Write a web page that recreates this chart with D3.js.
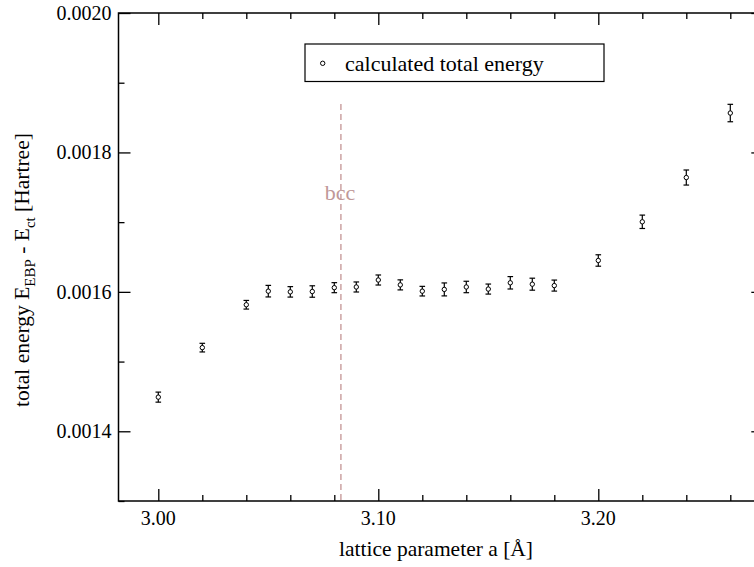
<!DOCTYPE html>
<html><head><meta charset="utf-8">
<script src="https://cdn.jsdelivr.net/npm/d3@7"></script>
</head><body style="margin:0">
<script>
const latticeA = [3.00,3.02,3.04,3.05,3.06,3.07,3.08,3.09,3.10,3.11,3.12,3.13,3.14,3.15,3.16,3.17,3.18,3.20,3.22,3.24,3.26];
const energy = [0.001449,0.001520,0.0015815,0.001601,0.0016,0.0016005,0.001606,0.001607,0.001617,0.00161,0.001601,0.0016035,0.001607,0.001604,0.001613,0.001611,0.001609,0.001645,0.0017005,0.001764,0.0018565];
const errBar = [0.0000072,0.0000062,0.0000062,0.0000083,0.0000075,0.0000082,0.0000072,0.0000072,0.0000072,0.0000072,0.0000069,0.0000093,0.0000082,0.0000072,0.0000089,0.0000086,0.0000079,0.0000082,0.0000096,0.0000108,0.0000125];
const xTicks = [3.00,3.10,3.20];
const xTickLabels = ["3.00","3.10","3.20"];
const xMinor = [3.02,3.04,3.06,3.08,3.12,3.14,3.16,3.18,3.22,3.24,3.26];
const yTicks = [0.0014,0.0016,0.0018,0.0020];
const yTickLabels = ["0.0014","0.0016","0.0018","0.0020"];
const yMinor = [0.0013,0.0015,0.0017,0.0019];
const bccA = 3.083;
const legendLabel = "calculated total energy";

function draw(){
const W=754,H=567;
const L=118.5,R=763.3,T=13,B=501;
const FF=()=>'"Times New Roman"';
const svg=d3.select("body").append("svg").attr("width",W).attr("height",H);
const x=d3.scaleLinear().domain([3.00,3.275]).range([158.3,158.3+0.275*2200]);
const xDom=[x.invert(L),x.invert(R)];
x.domain(xDom).range([L,R]);
const y=d3.scaleLinear().domain([0.0013,0.0020]).range([B,T]);

const g=svg.append("g");
g.append("rect").attr("x",L).attr("y",T).attr("width",R-L).attr("height",B-T).attr("fill","none").attr("stroke","#000").attr("stroke-width",1.5);

function styleAxis(sel){sel.select(".domain").remove();sel.selectAll(".tick line").attr("stroke","#000").attr("stroke-width",1.3);sel.selectAll("text").remove();}
[[d3.axisBottom,B,-12,xTicks],[d3.axisBottom,B,-6,xMinor],[d3.axisTop,T,-12,xTicks],[d3.axisTop,T,-6,xMinor]].forEach(([ax,pos,sz,tv])=>{
  g.append("g").attr("transform",`translate(0,${pos})`).call(ax(x).tickValues(tv).tickSize(sz)).call(styleAxis);
});
[[d3.axisLeft,L,-12,yTicks],[d3.axisLeft,L,-6,yMinor],[d3.axisRight,R,-12,yTicks],[d3.axisRight,R,-6,yMinor]].forEach(([ax,pos,sz,tv])=>{
  g.append("g").attr("transform",`translate(${pos},0)`).call(ax(y).tickValues(tv).tickSize(sz)).call(styleAxis);
});
function txt(parent,size){return parent.append("text").style("font-family",FF).attr("font-size",size);}
svg.selectAll("text.xl").data(xTicks).enter().append("text").attr("class","xl").style("font-family",FF).attr("font-size",20)
  .attr("x",d=>x(d)).attr("y",525).attr("text-anchor","middle").text((d,i)=>xTickLabels[i]);
svg.selectAll("text.yl").data(yTicks).enter().append("text").attr("class","yl").style("font-family",FF).attr("font-size",20)
  .attr("x",111.5).attr("y",d=>y(d)+7).attr("text-anchor","end").text((d,i)=>yTickLabels[i]);

txt(svg,21.5).attr("x",436).attr("y",556).attr("text-anchor","middle").text("lattice parameter a [Å]");
const yt=txt(svg,21.5).attr("transform","translate(29,270) rotate(-90)").attr("text-anchor","middle");
yt.append("tspan").text("total energy E");
yt.append("tspan").attr("dy",6).attr("font-size",15).text("EBP");
yt.append("tspan").attr("dy",-6).text(" - E");
yt.append("tspan").attr("dy",6).attr("font-size",15).text("ct");
yt.append("tspan").attr("dy",-6).text(" [Hartree]");

svg.append("line").attr("x1",x(bccA)).attr("x2",x(bccA)).attr("y1",104).attr("y2",B-1).attr("stroke","#cfa8a8").attr("stroke-width",1.6).attr("stroke-dasharray","6,4");
txt(svg,22).attr("x",x(bccA)-1).attr("y",200).attr("text-anchor","middle").attr("fill","#c09898").text("bcc");

const pts=svg.append("g");
latticeA.forEach((a,i)=>{
  const cx=x(a),y1=y(energy[i]-errBar[i]),y2=y(energy[i]+errBar[i]);
  pts.append("line").attr("x1",cx).attr("x2",cx).attr("y1",y1).attr("y2",y2).attr("stroke","#000").attr("stroke-width",1.2);
  [y1,y2].forEach(yy=>pts.append("line").attr("x1",cx-2.8).attr("x2",cx+2.8).attr("y1",yy).attr("y2",yy).attr("stroke","#000").attr("stroke-width",1.2));
  pts.append("circle").attr("cx",cx).attr("cy",y(energy[i])).attr("r",2.2).attr("fill","#fff").attr("stroke","#000").attr("stroke-width",1);
});

svg.append("rect").attr("x",305).attr("y",44).attr("width",299).attr("height",37.5).attr("fill","#fff").attr("stroke","#000").attr("stroke-width",1.2);
svg.append("circle").attr("cx",322.7).attr("cy",63.3).attr("r",2.2).attr("fill","#fff").attr("stroke","#000").attr("stroke-width",1);
txt(svg,22).attr("x",345).attr("y",70.5).text(legendLabel);
}
if (document.fonts && document.fonts.load) {
  document.fonts.load('20px "Times New Roman"').then(draw, draw);
} else draw();
</script>
</body></html>
